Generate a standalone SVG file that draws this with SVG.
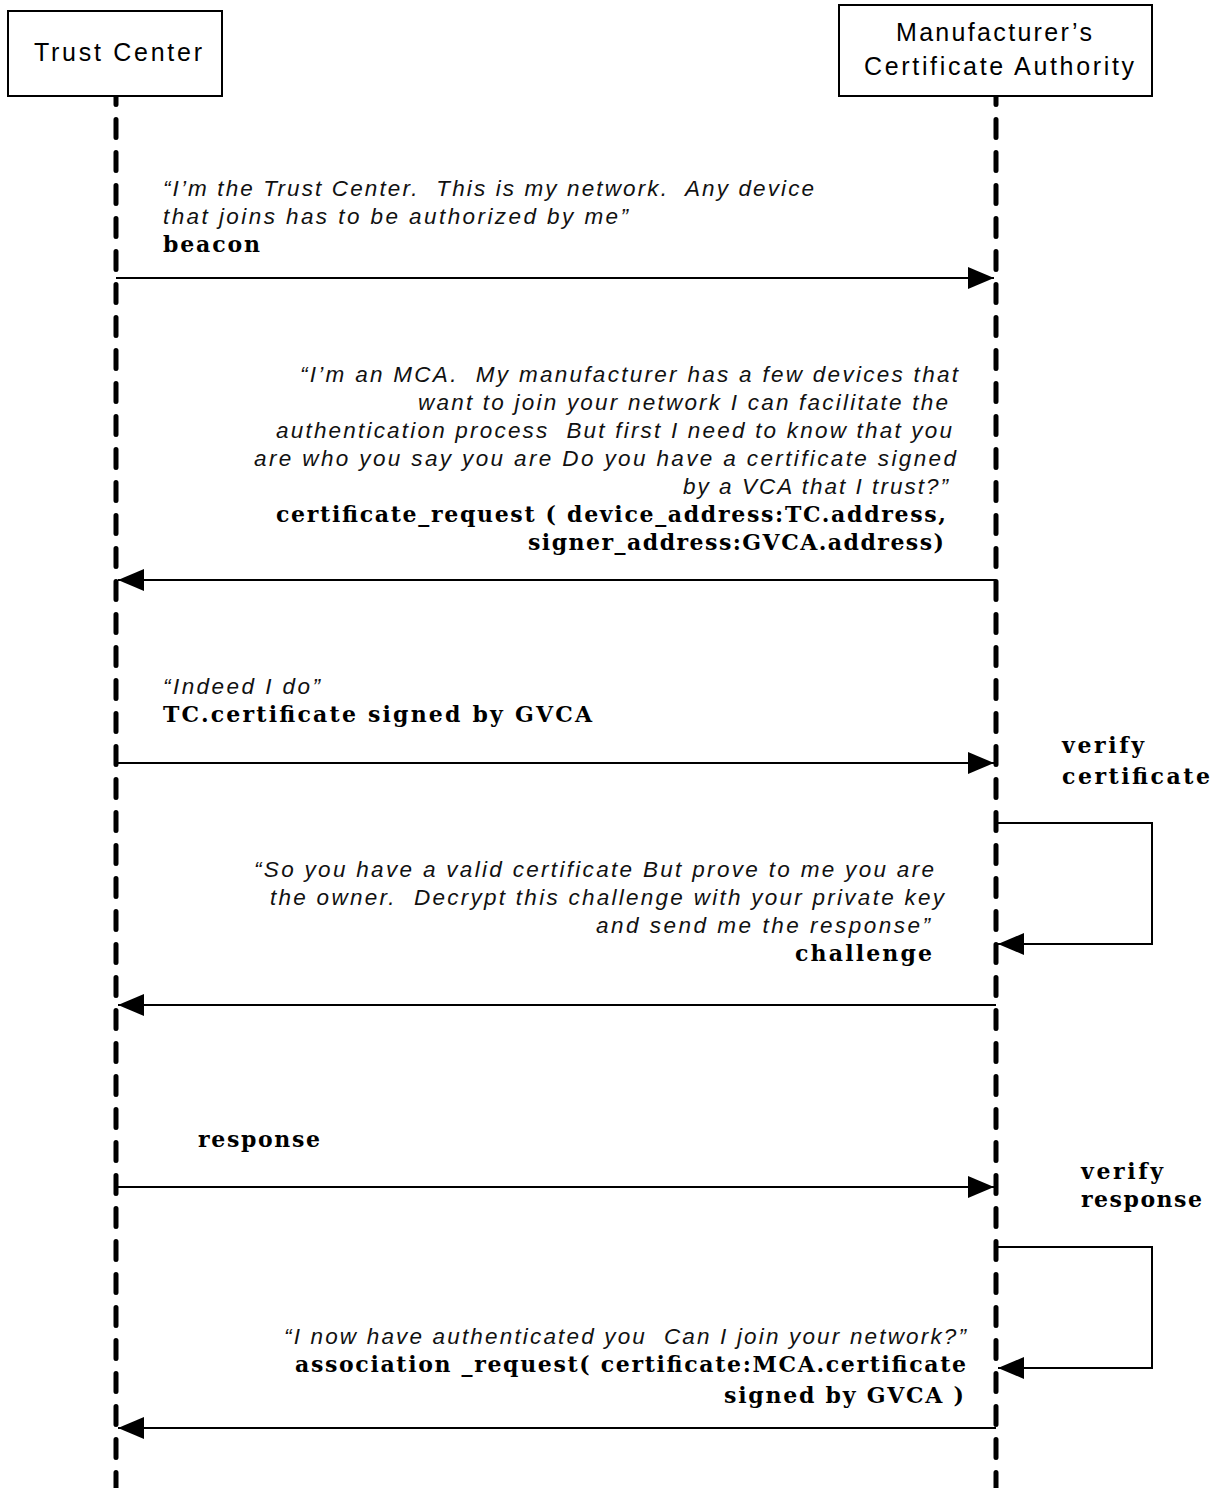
<svg xmlns="http://www.w3.org/2000/svg" width="1220" height="1488" viewBox="0 0 1220 1488">
<defs>
<marker id="ah" markerUnits="userSpaceOnUse" markerWidth="28" markerHeight="24" refX="26" refY="11" orient="auto">
<path d="M0,0 L26,11 L0,22 z" fill="#000"/>
</marker>
<style>
.box{fill:#fff;stroke:#000;stroke-width:2}
.lbl{font-family:"Liberation Sans",Arial,sans-serif;font-size:25px;fill:#000}
.life{stroke:#000;stroke-width:5;stroke-linecap:round;stroke-dasharray:18 15;stroke-dashoffset:9.5;fill:none}
.msg{stroke:#000;stroke-width:2;fill:none;marker-end:url(#ah)}
.it{font-family:"Liberation Sans",Arial,sans-serif;font-style:italic;font-size:22.5px;fill:#111}
.bd{font-family:"DejaVu Serif","Liberation Serif",serif;font-weight:bold;font-size:22px;fill:#000}
</style>
</defs>
<rect width="1220" height="1488" fill="#fff"/>
<g id="lifelines">
<line class="life" x1="116" y1="96" x2="116" y2="1488"/>
<line class="life" x1="996" y1="96" x2="996" y2="1488"/>
</g>
<g id="trust-center">
<rect class="box" x="8" y="11" width="214" height="85"/>
<text class="lbl" x="34" y="61" textLength="168" lengthAdjust="spacing">Trust Center</text>
</g>
<g id="mca">
<rect class="box" x="839" y="5" width="313" height="91"/>
<text class="lbl" x="896" y="41" textLength="196" lengthAdjust="spacing">Manufacturer’s</text>
<text class="lbl" x="864" y="75" textLength="270" lengthAdjust="spacing">Certificate Authority</text>
</g>
<g id="connectors">
<line class="msg" x1="116" y1="278" x2="994" y2="278"/>
<line class="msg" x1="996" y1="580" x2="118" y2="580"/>
<line class="msg" x1="116" y1="763" x2="994" y2="763"/>
<polyline class="msg" points="996,823 1152,823 1152,944 998,944"/>
<line class="msg" x1="996" y1="1005" x2="118" y2="1005"/>
<line class="msg" x1="116" y1="1187" x2="994" y2="1187"/>
<polyline class="msg" points="996,1247 1152,1247 1152,1368 998,1368"/>
<line class="msg" x1="996" y1="1428" x2="118" y2="1428"/>
</g>
<g id="msg-beacon">
<text class="it" x="163" y="196" textLength="651" lengthAdjust="spacing" xml:space="preserve">“I’m the Trust Center.  This is my network.  Any device</text>
<text class="it" x="163" y="224" textLength="465" lengthAdjust="spacing">that joins has to be authorized by me”</text>
<text class="bd" x="163" y="252" textLength="97" lengthAdjust="spacing">beacon</text>
</g>
<g id="msg-certificate-request">
<text class="it" x="300" y="382" textLength="658" lengthAdjust="spacing" xml:space="preserve">“I’m an MCA.  My manufacturer has a few devices that</text>
<text class="it" x="418" y="410" textLength="530" lengthAdjust="spacing">want to join your network I can facilitate the</text>
<text class="it" x="276" y="438" textLength="676" lengthAdjust="spacing" xml:space="preserve">authentication process  But first I need to know that you</text>
<text class="it" x="254" y="466" textLength="702" lengthAdjust="spacing">are who you say you are Do you have a certificate signed</text>
<text class="it" x="683" y="494" textLength="265" lengthAdjust="spacing">by a VCA that I trust?”</text>
<text class="bd" x="276" y="522" textLength="670" lengthAdjust="spacing">certificate_request ( device_address:TC.address,</text>
<text class="bd" x="528" y="550" textLength="416" lengthAdjust="spacing">signer_address:GVCA.address)</text>
</g>
<g id="msg-tc-certificate">
<text class="it" x="163" y="694" textLength="157" lengthAdjust="spacing">“Indeed I do”</text>
<text class="bd" x="163" y="722" textLength="429" lengthAdjust="spacing">TC.certificate signed by GVCA</text>
</g>
<g id="self-verify-certificate">
<text class="bd" x="1062" y="753" textLength="82" lengthAdjust="spacing">verify</text>
<text class="bd" x="1062" y="784" textLength="148" lengthAdjust="spacing">certificate</text>
</g>
<g id="msg-challenge">
<text class="it" x="254" y="877" textLength="680" lengthAdjust="spacing">“So you have a valid certificate But prove to me you are</text>
<text class="it" x="270" y="905" textLength="674" lengthAdjust="spacing" xml:space="preserve">the owner.  Decrypt this challenge with your private key</text>
<text class="it" x="596" y="933" textLength="334" lengthAdjust="spacing">and send me the response”</text>
<text class="bd" x="795" y="961" textLength="137" lengthAdjust="spacing">challenge</text>
</g>
<g id="msg-response">
<text class="bd" x="198" y="1147" textLength="122" lengthAdjust="spacing">response</text>
</g>
<g id="self-verify-response">
<text class="bd" x="1081" y="1179" textLength="82" lengthAdjust="spacing">verify</text>
<text class="bd" x="1081" y="1207" textLength="121" lengthAdjust="spacing">response</text>
</g>
<g id="msg-association-request">
<text class="it" x="284" y="1344" textLength="682" lengthAdjust="spacing" xml:space="preserve">“I now have authenticated you  Can I join your network?”</text>
<text class="bd" x="295" y="1372" textLength="671" lengthAdjust="spacing">association _request( certificate:MCA.certificate</text>
<text class="bd" x="724" y="1403" textLength="240" lengthAdjust="spacing">signed by GVCA )</text>
</g>
</svg>
